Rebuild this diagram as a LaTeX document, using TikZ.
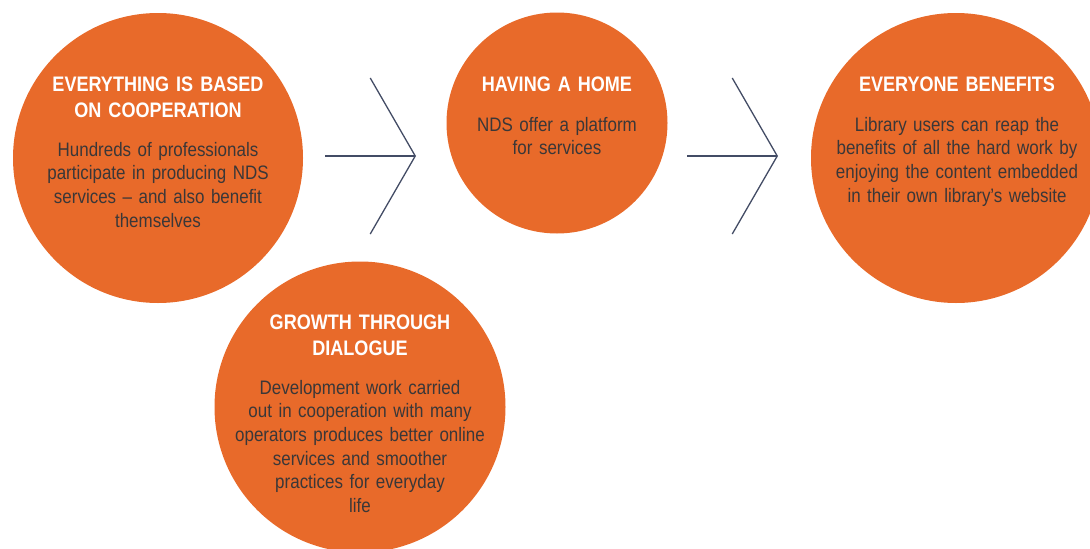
\documentclass[tikz,border=0pt]{standalone}
\usepackage{fontspec}
\setmainfont{Liberation Sans}
\newfontfamily\headfont{Liberation Sans}[FakeStretch=0.86]
\newfontfamily\bodyfont{Liberation Sans}[FakeStretch=0.87]
\usepackage{tikz}
\usetikzlibrary{arrows.meta}
\definecolor{discorange}{HTML}{E86A2A}
\definecolor{bodygray}{HTML}{3A3738}
\definecolor{flowslate}{HTML}{434C65}

\begin{document}
\begin{tikzpicture}[%
    x=1pt, y=-1pt,
    disc/.style={circle, fill=discorange, inner sep=0pt},
    head/.style={anchor=base, text=white, align=center, text width=300pt,
      font={\headfont\bfseries\fontsize{21}{26}\selectfont}},
    body/.style={anchor=base, text=bodygray, align=center, text width=300pt,
      font={\bodyfont\fontsize{19.5}{23.7}\selectfont}},
    flow/.style={draw=flowslate, line width=1.3pt,
      -{Straight Barb[length=45pt,width=156pt]}}
  ]
    \useasboundingbox (0,0) rectangle (1090,549);

    % the four discs
    \node[disc, minimum size=290pt] (coop)     at (158,158) {};
    \node[disc, minimum size=221pt] (home)     at (557,123) {};
    \node[disc, minimum size=290pt] (benefit)  at (956,158) {};
    \node[disc, minimum size=291pt] (dialogue) at (360,407) {};

    % texts
    \node[head] (coop-head) at (158,91) {EVERYTHING IS BASED\\ON COOPERATION};
    \node[body] (coop-body) at (158,156) {Hundreds of professionals\\participate in producing NDS\\services – and also benefit\\themselves};

    \node[head] (home-head) at (557,91) {HAVING A HOME};
    \node[body] (home-body) at (557,131) {NDS offer a platform\\for services};

    \node[head] (benefit-head) at (957,91) {EVERYONE BENEFITS};
    \node[body] (benefit-body) at (957,131) {Library users can reap the\\benefits of all the hard work by\\enjoying the content embedded\\in their own library’s website};

    \node[head] (dialogue-head) at (360,329) {GROWTH THROUGH\\DIALOGUE};
    \node[body] (dialogue-body) at (360,394) {Development work carried\\out in cooperation with many\\operators produces better online\\services and smoother\\practices for everyday\\life};

    % chevron arrows
    \foreach \n/\tail/\tip in {A/325/416, B/687/778} {
      \coordinate (flow\n-tail) at (\tail,156);
      \coordinate (flow\n-tip)  at (\tip,156);
      \draw[flow] (flow\n-tail) -- (flow\n-tip);
    };
\end{tikzpicture}
\end{document}
